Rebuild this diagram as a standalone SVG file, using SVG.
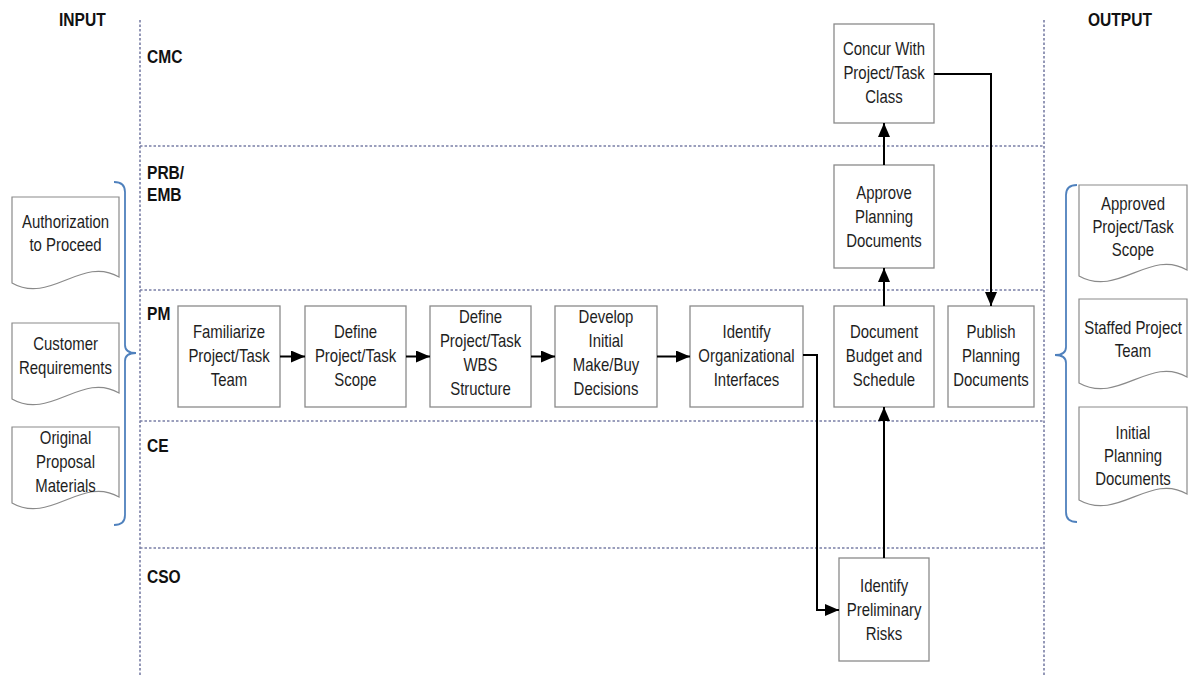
<svg xmlns="http://www.w3.org/2000/svg" width="1188" height="677" viewBox="0 0 1188 677">
<style>
.lane{fill:none;stroke:#7a7fa6;stroke-width:1.6;stroke-dasharray:2.5,2}
.box{fill:#fff;stroke:#8a8a8a;stroke-width:1.3}
.doc{fill:#fff;stroke:#8a8a8a;stroke-width:1.2}
.brace{fill:none;stroke:#4f81bd;stroke-width:1.8}
.t{font-family:"Liberation Sans",Arial,sans-serif;font-size:18px;fill:#1e1e1e;text-anchor:middle;transform-box:fill-box;transform-origin:50% 50%;transform:scaleX(0.83)}
.lbl{font-family:"Liberation Sans",Arial,sans-serif;font-size:19px;font-weight:bold;fill:#111;transform-box:fill-box;transform-origin:0% 50%;transform:scaleX(0.82)}
.con{fill:none;stroke:#000;stroke-width:2;marker-end:url(#ah)}
</style>
<defs>
<marker id="ah" markerWidth="14" markerHeight="12" refX="14" refY="6" orient="auto" markerUnits="userSpaceOnUse"><path d="M0,0 L14,6 L0,12 z" fill="#000"/></marker>
</defs>
<rect width="1188" height="677" fill="#fff"/>

<g id="lanes">
<line class="lane" x1="140" y1="20" x2="140" y2="677"/>
<line class="lane" x1="1044" y1="20" x2="1044" y2="677"/>
<line class="lane" x1="140" y1="146" x2="1044" y2="146"/>
<line class="lane" x1="140" y1="290" x2="1044" y2="290"/>
<line class="lane" x1="140" y1="421" x2="1044" y2="421"/>
<line class="lane" x1="140" y1="548" x2="1044" y2="548"/>
<text class="lbl" x="59" y="26">INPUT</text>
<text class="lbl" x="1088" y="26">OUTPUT</text>
<text class="lbl" x="147" y="63">CMC</text>
<text class="lbl" x="147" y="179">PRB/</text>
<text class="lbl" x="147" y="201">EMB</text>
<text class="lbl" x="147" y="320">PM</text>
<text class="lbl" x="147" y="452">CE</text>
<text class="lbl" x="147" y="583">CSO</text>
</g>

<g id="inputs">
<g id="in-auth">
<path class="doc" d="M12,197 H119 V277 C82,255 50,305 12,283 Z"/>
<text class="t" x="65.5" y="228">Authorization</text>
<text class="t" x="65.5" y="251">to Proceed</text>
</g>
<g id="in-cust">
<path class="doc" d="M12,323 H119 V393 C82,371 50,421 12,399 Z"/>
<text class="t" x="65.5" y="350">Customer</text>
<text class="t" x="65.5" y="374">Requirements</text>
</g>
<g id="in-orig">
<path class="doc" d="M12,427 H119 V497 C82,475 50,525 12,503 Z"/>
<text class="t" x="65.5" y="444">Original</text>
<text class="t" x="65.5" y="468">Proposal</text>
<text class="t" x="65.5" y="492">Materials</text>
</g>
<path id="brace-in" class="brace" d="M114,182 Q125,182 125,192 V345 Q125,353 136,353 Q125,353 125,361 V515 Q125,525 114,525"/>
</g>

<g id="outputs">
<g id="out-scope">
<path class="doc" d="M1079,185 H1187 V270 C1150,248 1118,298 1079,276 Z"/>
<text class="t" x="1133" y="210">Approved</text>
<text class="t" x="1133" y="233">Project/Task</text>
<text class="t" x="1133" y="256">Scope</text>
</g>
<g id="out-team">
<path class="doc" d="M1079,299 H1187 V377 C1150,355 1118,405 1079,383 Z"/>
<text class="t" x="1133" y="334">Staffed Project</text>
<text class="t" x="1133" y="357">Team</text>
</g>
<g id="out-plan">
<path class="doc" d="M1079,407 H1187 V494 C1150,472 1118,522 1079,500 Z"/>
<text class="t" x="1133" y="439">Initial</text>
<text class="t" x="1133" y="462">Planning</text>
<text class="t" x="1133" y="485">Documents</text>
</g>
<path id="brace-out" class="brace" d="M1077,185 Q1066,185 1066,195 V347 Q1066,355 1055,355 Q1066,355 1066,363 V512 Q1066,522 1077,522"/>
</g>

<g id="n-concur">
<rect class="box" x="834" y="24" width="100" height="99"/>
<text class="t" x="884" y="55">Concur With</text>
<text class="t" x="884" y="79">Project/Task</text>
<text class="t" x="884" y="103">Class</text>
</g>
<g id="n-approve">
<rect class="box" x="834" y="165" width="100" height="103"/>
<text class="t" x="884" y="199">Approve</text>
<text class="t" x="884" y="223">Planning</text>
<text class="t" x="884" y="247">Documents</text>
</g>
<g id="n-familiarize">
<rect class="box" x="178" y="306" width="102" height="101"/>
<text class="t" x="229" y="338">Familiarize</text>
<text class="t" x="229" y="362">Project/Task</text>
<text class="t" x="229" y="386">Team</text>
</g>
<g id="n-scope">
<rect class="box" x="305" y="306" width="101" height="101"/>
<text class="t" x="355.5" y="338">Define</text>
<text class="t" x="355.5" y="362">Project/Task</text>
<text class="t" x="355.5" y="386">Scope</text>
</g>
<g id="n-wbs">
<rect class="box" x="430" y="306" width="101" height="101"/>
<text class="t" x="480.5" y="323">Define</text>
<text class="t" x="480.5" y="347">Project/Task</text>
<text class="t" x="480.5" y="371">WBS</text>
<text class="t" x="480.5" y="395">Structure</text>
</g>
<g id="n-makebuy">
<rect class="box" x="555" y="306" width="102" height="101"/>
<text class="t" x="606" y="323">Develop</text>
<text class="t" x="606" y="347">Initial</text>
<text class="t" x="606" y="371">Make/Buy</text>
<text class="t" x="606" y="395">Decisions</text>
</g>
<g id="n-interfaces">
<rect class="box" x="690" y="306" width="113" height="101"/>
<text class="t" x="746.5" y="338">Identify</text>
<text class="t" x="746.5" y="362">Organizational</text>
<text class="t" x="746.5" y="386">Interfaces</text>
</g>
<g id="n-budget">
<rect class="box" x="834" y="306" width="100" height="101"/>
<text class="t" x="884" y="338">Document</text>
<text class="t" x="884" y="362">Budget and</text>
<text class="t" x="884" y="386">Schedule</text>
</g>
<g id="n-publish">
<rect class="box" x="948" y="306" width="86" height="101"/>
<text class="t" x="991" y="338">Publish</text>
<text class="t" x="991" y="362">Planning</text>
<text class="t" x="991" y="386">Documents</text>
</g>
<g id="n-risks">
<rect class="box" x="839" y="558" width="90" height="103"/>
<text class="t" x="884" y="592">Identify</text>
<text class="t" x="884" y="616">Preliminary</text>
<text class="t" x="884" y="640">Risks</text>
</g>

<g id="connectors">
<path class="con" d="M280,356.5 H305"/>
<path class="con" d="M406,356.5 H430"/>
<path class="con" d="M531,356.5 H555"/>
<path class="con" d="M657,356.5 H690"/>
<path class="con" d="M803,355 H817 V610 H839"/>
<path class="con" d="M884,558 V407"/>
<path class="con" d="M884,306 V268"/>
<path class="con" d="M884,165 V123"/>
<path class="con" d="M934,74 H991 V306"/>
</g>
</svg>
